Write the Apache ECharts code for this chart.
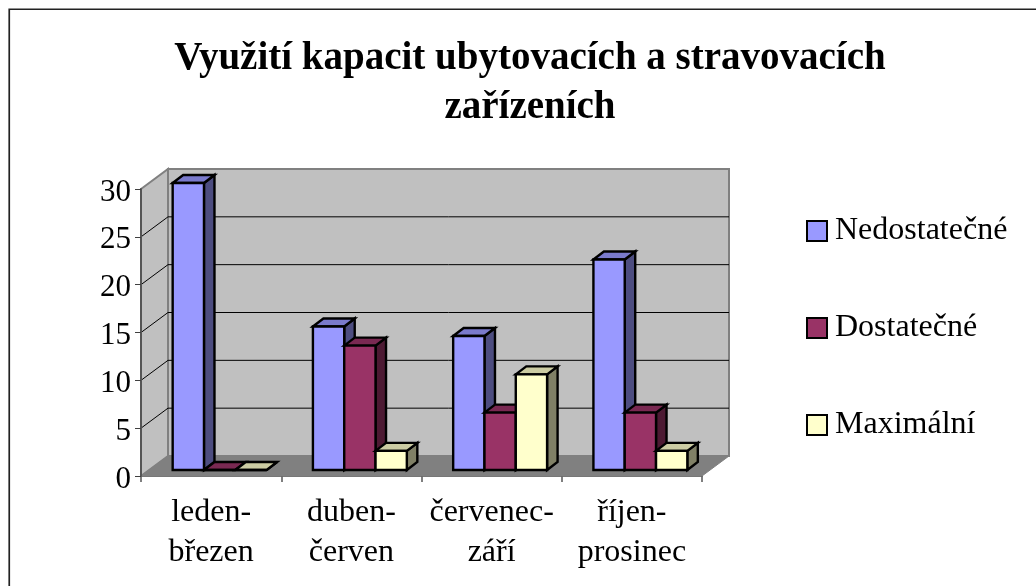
<!DOCTYPE html>
<html>
<head>
<meta charset="utf-8">
<style>
  html, body { margin: 0; padding: 0; background: #fff; }
  #container { width: 1036px; height: 586px; }
</style>
<script src="https://cdn.jsdelivr.net/npm/echarts@6/dist/echarts.min.js"></script>
</head>
<body>
<div id="container"></div>
<script>
const titleText = 'Využití kapacit ubytovacích a stravovacích\nzařízeních'
const categories = ['leden-\nbřezen', 'duben-\nčerven', 'červenec-\nzáří', 'říjen-\nprosinec']
const seriesNames = ['Nedostatečné', 'Dostatečné', 'Maximální']
const nedostatecne = [30, 15, 14, 22]
const dostatecne = [0, 13, 6, 6]
const maximalni = [0, 2, 10, 2]
const yTicks = [0, 5, 10, 15, 20, 25, 30]

const frontColors = ['#9999ff', '#993366', '#ffffcc']
const topColors = ['#7a7acc', '#7a2952', '#cccca3']
const sideColors = ['#4d4d80', '#4d1a33', '#808066']

const fontFamily = '"Liberation Serif", "Times New Roman", serif'
const FONT = 32

// depth of the whole box, and of one bar
const wallX = 27, wallY = 20
const barDX = 10.5, barDY = 8
const barOffX = 8.5, barOffY = 6
const barW = 0.2232 // of the category band

function poly(points, fill, stroke, lineWidth) {
  return {
    type: 'polygon',
    shape: { points: points },
    style: { fill: fill, stroke: stroke, lineWidth: lineWidth, lineJoin: 'miter' }
  }
}

function renderWalls(params, api) {
  let c = params.coordSys
  let l = c.x, r = c.x + c.width, t = c.y, b = c.y + c.height
  let edge = '#808080'
  let kids = [
    poly([[l + wallX, t - wallY], [r + wallX, t - wallY], [r + wallX, b - wallY], [l + wallX, b - wallY]], '#c0c0c0', edge, 2),
    poly([[l, t], [l + wallX, t - wallY], [l + wallX, b - wallY], [l, b]], '#c0c0c0', edge, 2),
    poly([[l, b], [l + wallX, b - wallY], [r + wallX, b - wallY], [r, b]], '#808080', '#808080', 1)
  ]
  yTicks.slice(1, -1).forEach(v => {
    let y = api.coord([0, v])[1]
    kids.push({
      type: 'polyline',
      shape: { points: [[l, y], [l + wallX, y - wallY], [r + wallX, y - wallY]] },
      style: { fill: null, stroke: '#000', lineWidth: 1 }
    })
  })
  return { type: 'group', children: kids }
}

function barRenderer(idx) {
  return function (params, api) {
    let band = api.size([1, 0])[0]
    let w = band * barW
    let p = api.coord([api.value(0), api.value(1)])
    let base = api.coord([api.value(0), 0])
    let x0 = p[0] + barOffX + (idx - 1.5) * w
    let x1 = x0 + w
    let yTop = p[1] - barOffY
    let yBase = base[1] - barOffY
    let lw = 2.4
    return {
      type: 'group',
      children: [
        poly([[x1, yTop], [x1 + barDX, yTop - barDY], [x1 + barDX, yBase - barDY], [x1, yBase]], sideColors[idx], '#000', lw),
        poly([[x0, yTop], [x0 + barDX, yTop - barDY], [x1 + barDX, yTop - barDY], [x1, yTop]], topColors[idx], '#000', lw),
        poly([[x0, yTop], [x1, yTop], [x1, yBase], [x0, yBase]], frontColors[idx], '#000', lw)
      ]
    }
  }
}

let values = [nedostatecne, dostatecne, maximalni]
let barSeries = seriesNames.map((name, idx) => ({
  type: 'custom',
  name: name,
  z: 3 + idx,
  itemStyle: { color: frontColors[idx], borderColor: '#000', borderWidth: 2.4 },
  renderItem: barRenderer(idx),
  encode: { x: 0, y: 1 },
  data: categories.map((cat, i) => [i, values[idx][i]])
}))

let options = {
  animation: false,
  tooltip: { show: false },
  title: {
    text: titleText,
    left: 525,
    top: 30,
    textAlign: 'center',
    textStyle: { fontFamily: fontFamily, fontSize: 39, fontWeight: 'bold', color: '#000', lineHeight: 48.5 }
  },
  legend: {
    orient: 'vertical',
    left: 806,
    top: 215,
    padding: 0,
    itemWidth: 20,
    itemHeight: 20,
    itemGap: 65,
    icon: 'rect',
    selectedMode: false,
    textStyle: { fontFamily: fontFamily, fontSize: FONT, color: '#000', padding: [0, 0, 0, 3] },
    data: seriesNames
  },
  grid: { left: 141, top: 189, width: 561, height: 287, containLabel: false },
  xAxis: {
    type: 'category',
    data: categories,
    boundaryGap: true,
    axisLine: { show: true, lineStyle: { color: '#404040', width: 1.5 } },
    axisTick: { show: true, alignWithLabel: false, length: 6, lineStyle: { color: '#555', width: 1.5 } },
    splitLine: { show: false },
    axisLabel: { interval: 0, fontFamily: fontFamily, fontSize: FONT, color: '#000', lineHeight: 40, margin: 16.5 }
  },
  yAxis: {
    type: 'value',
    min: 0,
    max: 30,
    interval: 5,
    z: 6,
    axisLine: { show: true, lineStyle: { color: '#555', width: 2 } },
    axisTick: { show: true, length: 6, lineStyle: { color: '#404040', width: 1 } },
    splitLine: { show: false },
    axisLabel: { fontFamily: fontFamily, fontSize: 31, color: '#000', margin: 10, verticalAlign: 'top', lineHeight: 7 }
  },
  graphic: [{
    type: 'rect',
    silent: true,
    z: -1,
    shape: { x: 9.25, y: 9.25, width: 1100, height: 700 },
    style: { fill: '#fff', stroke: '#222', lineWidth: 1.7 }
  }],
  series: [{
    type: 'custom',
    name: 'walls',
    z: 1,
    silent: true,
    renderItem: renderWalls,
    data: [[0, 0]]
  }].concat(barSeries)
}

let mychart = echarts.init(document.getElementById('container'))
mychart.setOption(options)
window.addEventListener('resize', () => { mychart.resize() })
</script>
</body>
</html>
